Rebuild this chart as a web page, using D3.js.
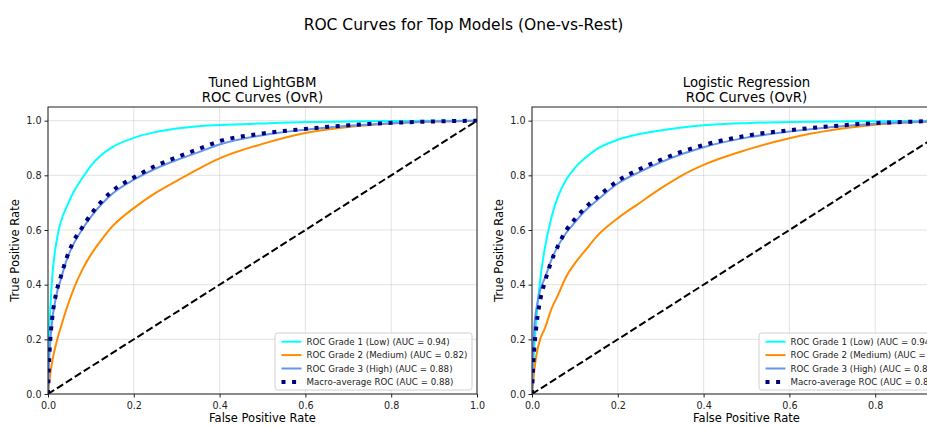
<!DOCTYPE html>
<html>
<head>
<meta charset="utf-8">
<script src="https://cdn.jsdelivr.net/npm/d3@7"></script>
<style>
  body { margin: 0; background: #fff; }
  svg { font-family: "DejaVu Sans", sans-serif; display: block; }
</style>
</head>
<body>
<div id="chart"></div>
<script>
const w = 927;
const h = 426;

// shared false positive rate grid
const fprGrid = [0, 0.002, 0.005, 0.01, 0.02, 0.03, 0.045, 0.06, 0.08, 0.1, 0.125, 0.15, 0.2, 0.25, 0.3, 0.35, 0.4, 0.5, 0.6, 0.7, 0.8, 0.9, 1.0];

// Tuned LightGBM
const lgbmTprLow    = [0, 0.18, 0.30, 0.43, 0.56, 0.63, 0.69, 0.74, 0.79, 0.835, 0.875, 0.903, 0.937, 0.958, 0.971, 0.980, 0.984, 0.990, 0.995, 0.997, 0.999, 1.0, 1.0];
const lgbmTprMedium = [0, 0.03, 0.07, 0.12, 0.19, 0.245, 0.32, 0.385, 0.455, 0.51, 0.565, 0.613, 0.68, 0.735, 0.78, 0.823, 0.862, 0.915, 0.955, 0.977, 0.99, 0.997, 1.0];
const lgbmTprHigh   = [0, 0.10, 0.185, 0.27, 0.365, 0.42, 0.497, 0.55, 0.603, 0.648, 0.695, 0.733, 0.784, 0.824, 0.856, 0.884, 0.913, 0.947, 0.967, 0.981, 0.991, 0.997, 1.0];
const lgbmTprMacro  = [0, 0.10, 0.19, 0.28, 0.375, 0.43, 0.505, 0.56, 0.61, 0.657, 0.705, 0.743, 0.792, 0.834, 0.866, 0.896, 0.925, 0.953, 0.970, 0.983, 0.992, 0.997, 1.0];

// Logistic Regression
const lrTprLow    = [0, 0.07, 0.16, 0.27, 0.43, 0.534, 0.644, 0.72, 0.785, 0.827, 0.865, 0.895, 0.930, 0.951, 0.964, 0.975, 0.983, 0.991, 0.995, 0.997, 0.998, 0.999, 1.0];
const lrTprMedium = [0, 0.03, 0.08, 0.14, 0.205, 0.24, 0.31, 0.36, 0.43, 0.478, 0.527, 0.575, 0.643, 0.698, 0.752, 0.80, 0.838, 0.893, 0.936, 0.966, 0.985, 0.995, 1.0];
const lrTprHigh   = [0, 0.14, 0.24, 0.31, 0.385, 0.424, 0.49, 0.54, 0.59, 0.628, 0.672, 0.706, 0.770, 0.812, 0.848, 0.878, 0.903, 0.938, 0.960, 0.977, 0.989, 0.996, 1.0];
const lrTprMacro  = [0, 0.08, 0.16, 0.245, 0.35, 0.41, 0.485, 0.54, 0.60, 0.64, 0.683, 0.717, 0.78, 0.822, 0.857, 0.887, 0.911, 0.945, 0.965, 0.980, 0.991, 0.997, 1.0];

const lgbmLabels = ["ROC Grade 1 (Low) (AUC = 0.94)", "ROC Grade 2 (Medium) (AUC = 0.82)", "ROC Grade 3 (High) (AUC = 0.88)", "Macro-average ROC (AUC = 0.88)"];
const lrLabels   = ["ROC Grade 1 (Low) (AUC = 0.94)", "ROC Grade 2 (Medium) (AUC = 0.82)", "ROC Grade 3 (High) (AUC = 0.87)", "Macro-average ROC (AUC = 0.88)"];

const xTicks = [0, 0.2, 0.4, 0.6, 0.8, 1.0];
const yTicks = [0, 0.2, 0.4, 0.6, 0.8, 1.0];

const styles = [
  {color: '#00ffff', width: 2, dash: null},
  {color: '#ff8c00', width: 2, dash: null},
  {color: '#6495ed', width: 2, dash: null},
  {color: '#000080', width: 4, dash: '4,6.6'}
];

const panels = [
  {title: ['Tuned LightGBM', 'ROC Curves (OvR)'], x0: 48, series: [lgbmTprLow, lgbmTprMedium, lgbmTprHigh, lgbmTprMacro], labels: lgbmLabels},
  {title: ['Logistic Regression', 'ROC Curves (OvR)'], x0: 532, series: [lrTprLow, lrTprMedium, lrTprHigh, lrTprMacro], labels: lrLabels}
];

const plotW = 429;
const yTop = 107;
const yBot = 394;

const svg = d3.select('#chart')
  .append('svg')
  .attr('width', w)
  .attr('height', h);

// Main title
svg.append('text')
  .attr('x', w/2)
  .attr('y', 30)
  .attr('text-anchor', 'middle')
  .style('font-size', '15.5px')
  .text('ROC Curves for Top Models (One-vs-Rest)');

panels.forEach((p, k) => {
  const xScale = d3.scaleLinear().domain([0, 1]).range([p.x0, p.x0 + plotW]);
  const yScale = d3.scaleLinear().domain([0, 1.05]).range([yBot, yTop]);
  const g = svg.append('g');

  // grid
  g.append('g').selectAll('line').data(xTicks).enter().append('line')
    .attr('x1', d => xScale(d)).attr('x2', d => xScale(d))
    .attr('y1', yTop).attr('y2', yBot)
    .attr('stroke', '#b0b0b0').attr('stroke-opacity', 0.35).attr('stroke-width', 1);
  g.append('g').selectAll('line').data(yTicks).enter().append('line')
    .attr('x1', p.x0).attr('x2', p.x0 + plotW)
    .attr('y1', d => yScale(d)).attr('y2', d => yScale(d))
    .attr('stroke', '#b0b0b0').attr('stroke-opacity', 0.35).attr('stroke-width', 1);

  // curves
  const clipId = 'clip' + k;
  svg.append('clipPath').attr('id', clipId).append('rect')
    .attr('x', p.x0).attr('y', yTop).attr('width', plotW).attr('height', yBot - yTop);
  const line = d3.line()
    .x((d, i) => xScale(fprGrid[i]))
    .y(d => yScale(d))
    .curve(d3.curveMonotoneX);
  const curves = g.append('g').attr('clip-path', `url(#${clipId})`);
  p.series.forEach((s, i) => {
    curves.append('path')
      .attr('d', line(s))
      .attr('fill', 'none')
      .attr('stroke', styles[i].color)
      .attr('stroke-width', styles[i].width)
      .attr('stroke-dasharray', styles[i].dash)
      .attr('stroke-linejoin', 'round');
  });
  // chance line
  curves.append('line')
    .attr('x1', xScale(0)).attr('y1', yScale(0))
    .attr('x2', xScale(1)).attr('y2', yScale(1))
    .attr('stroke', '#000').attr('stroke-width', 2)
    .attr('stroke-dasharray', '7.4,3.2');

  // axes
  const xAxis = d3.axisBottom(xScale).tickValues(xTicks).tickFormat(d3.format('.1f')).tickSize(3.5).tickSizeOuter(0);
  const yAxis = d3.axisLeft(yScale).tickValues(yTicks).tickFormat(d3.format('.1f')).tickSize(3.5).tickSizeOuter(0);
  const gx = g.append('g').attr('transform', `translate(0,${yBot})`).call(xAxis);
  const gy = g.append('g').attr('transform', `translate(${p.x0},0)`).call(yAxis);
  [gx, gy].forEach(a => {
    a.select('.domain').remove();
    a.selectAll('line').attr('stroke', '#222');
    a.selectAll('text').style('font-size', '9.6px').attr('fill', '#222').style('font-family', '"DejaVu Sans"');
  });
  gx.selectAll('text').attr('dy', '0.9em');

  // frame
  g.append('rect')
    .attr('x', p.x0).attr('y', yTop).attr('width', plotW).attr('height', yBot - yTop)
    .attr('fill', 'none').attr('stroke', '#222').attr('stroke-width', 1);

  // titles and labels
  p.title.forEach((t, j) => {
    g.append('text')
      .attr('x', p.x0 + plotW/2)
      .attr('y', 87 + j*15)
      .attr('text-anchor', 'middle')
      .style('font-size', '13.3px')
      .text(t);
  });
  g.append('text')
    .attr('x', p.x0 + plotW/2)
    .attr('y', 422)
    .attr('text-anchor', 'middle')
    .style('font-size', '11.5px')
    .text('False Positive Rate');
  g.append('text')
    .attr('transform', `translate(${p.x0 - 29},${(yTop + yBot)/2}) rotate(-90)`)
    .attr('text-anchor', 'middle')
    .style('font-size', '11.5px')
    .text('True Positive Rate');

  // legend
  const lx = p.x0 + plotW - 5 - 197;
  const ly = 333;
  const leg = g.append('g').attr('transform', `translate(${lx},${ly})`);
  leg.append('rect')
    .attr('width', 197).attr('height', 57).attr('rx', 2.5)
    .attr('fill', '#fff').attr('fill-opacity', 0.8)
    .attr('stroke', '#d0d0d0').attr('stroke-width', 1);
  p.labels.forEach((lab, i) => {
    const cy = 8.7 + i*13.4;
    leg.append('line')
      .attr('x1', 6.5).attr('x2', 26.5)
      .attr('y1', cy).attr('y2', cy)
      .attr('stroke', styles[i].color)
      .attr('stroke-width', styles[i].width)
      .attr('stroke-dasharray', styles[i].dash);
    leg.append('text')
      .attr('x', 31.5).attr('y', cy)
      .attr('dy', '0.35em')
      .style('font-size', '8.7px')
      .attr('fill', '#222')
      .text(lab);
  });
});
</script>
</body>
</html>
